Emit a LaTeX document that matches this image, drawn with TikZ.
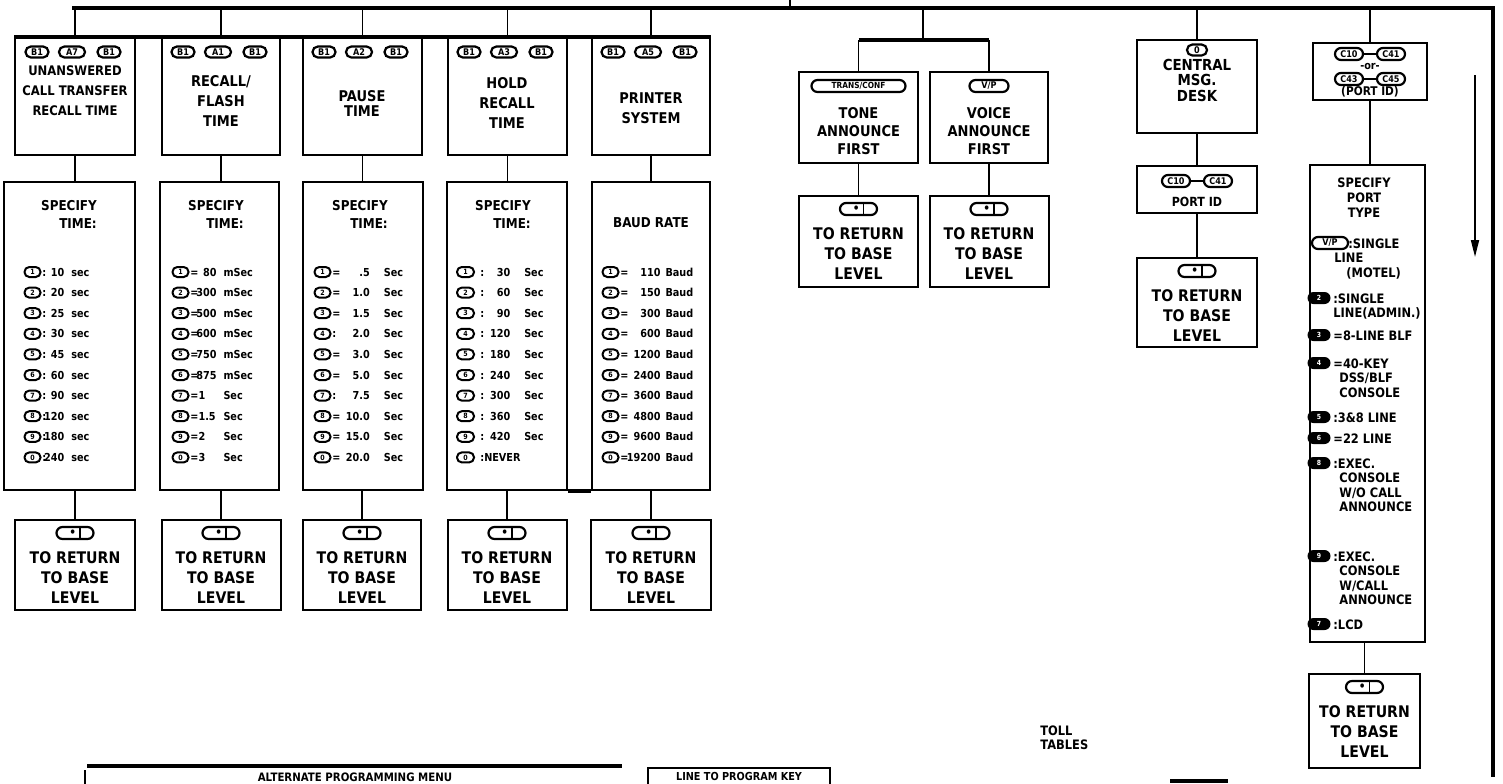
\documentclass[tikz,border=0pt]{standalone}
\usepackage{fontspec}
\setmainfont{DejaVu Sans}[FakeStretch=0.88]
\usetikzlibrary{calc}
\usetikzlibrary{arrows.meta}

\tikzset{
  box/.style={draw, line width=1pt, inner sep=0pt},
  title/.style={inner sep=0pt, align=center, font=\fontsize{7.4}{10}\selectfont\bfseries},
  head/.style={inner sep=0pt, align=center, font=\fontsize{6.8}{9}\selectfont\bfseries},
  key/.style={draw, line width=1.1pt, rounded corners=2.7pt, inner sep=0pt,
    minimum height=5.5pt, font=\fontsize{4.6}{4.6}\selectfont\bfseries},
  digit/.style={draw, line width=1pt, rounded corners=2.4pt, inner sep=0pt,
    minimum width=8pt, minimum height=5pt, font=\fontsize{3.6}{3.6}\selectfont\bfseries},
  blackkey/.style={fill, rounded corners=3pt, inner sep=0pt, minimum width=11.5pt,
    minimum height=6pt, text=white, font=\fontsize{3.5}{3.5}\selectfont\bfseries},
  item/.style={anchor=west, inner sep=0pt, font=\fontsize{5.5}{6}\selectfont\bfseries},
  porttext/.style={anchor=north west, inner sep=0pt, align=left,
    font=\fontsize{6.5}{7.3}\selectfont\bfseries},
  bus/.style={line width=1.8pt},
  link/.style={line width=0.7pt}
}

\newcommand{\retdot}{{\fontsize{6}{6}\selectfont\textbullet}\hspace{1.5pt}%
  \vrule width 0.8pt height 4.5pt depth 1.5pt\hspace{6pt}}
\newcommand{\retbox}[5]{%
  \node[box, minimum width=#4*\u, minimum height=#5*\u, anchor=north] (#1) at (#2,#3) {};
  \node[key, minimum width=18.5pt, minimum height=6pt, rounded corners=3pt] (#1k) at ($(#1.north)+(0,14)$) {\retdot};
  \node[title, font=\fontsize{8}{10}\selectfont\bfseries, anchor=north] (#1t) at ($(#1.north)+(0,32)$) {TO RETURN\\TO BASE\\LEVEL};
}

\begin{document}
\begin{tikzpicture}[x=0.5pt, y=-0.5pt]
\def\u{0.5pt}
\useasboundingbox (0,0) rectangle (1503,783);

\coordinate (busl) at (72,8);
\coordinate (busr) at (1493,8);
\coordinate (buse) at (1493,777);
\coordinate (tick) at (790,0);
\coordinate (mid) at (923,40);

% timer and printer branch
\node[box, minimum width=120*\u, minimum height=117*\u] (t1) at (75,96.5) {};
\node[box, minimum width=118*\u, minimum height=117*\u] (t2) at (221,96.5) {};
\node[box, minimum width=119*\u, minimum height=117*\u] (t3) at (362.5,96.5) {};
\node[box, minimum width=119*\u, minimum height=117*\u] (t4) at (507.5,96.5) {};
\node[box, minimum width=118*\u, minimum height=117*\u] (t5) at (651,96.5) {};

\foreach \n/\x/\a in {1/75/A7, 2/221/A1, 3/362/A2, 4/507/A3, 5/651/A5} {
  \node[key, minimum width=11.5pt] (t\n-a) at ({\x-38},52) {B1};
  \node[key, minimum width=13pt] (t\n-b) at ({\x-3},52) {\a};
  \node[key, minimum width=11.5pt] (t\n-c) at ({\x+34},52) {B1};
}

\node[title, anchor=north, font=\fontsize{6.6}{10}\selectfont\bfseries] (t1l) at (75,65) {UNANSWERED\\CALL TRANSFER\\RECALL TIME};
\node[title, anchor=north] (t2l) at (221,75) {RECALL/\\FLASH\\TIME};
\node[title, anchor=north, font=\fontsize{7.4}{7.8}\selectfont\bfseries] (t3l) at (362,90) {PAUSE\\TIME};
\node[title, anchor=north] (t4l) at (507,77) {HOLD\\RECALL\\TIME};
\node[title, anchor=north] (t5l) at (651,92) {PRINTER\\SYSTEM};

\node[box, minimum width=131*\u, minimum height=308*\u] (s1) at (69.5,336) {};
\node[box, minimum width=119*\u, minimum height=308*\u] (s2) at (219.5,336) {};
\node[box, minimum width=120*\u, minimum height=308*\u] (s3) at (363,336) {};
\node[box, minimum width=120*\u, minimum height=308*\u] (s4) at (507,336) {};
\node[box, minimum width=118*\u, minimum height=308*\u] (s5) at (651,336) {};

\node[head, anchor=north] (s1h) at (69,200) {SPECIFY\\\hspace*{9pt}TIME:};
\node[head, anchor=north] (s2h) at (216,200) {SPECIFY\\\hspace*{9pt}TIME:};
\node[head, anchor=north] (s3h) at (360,200) {SPECIFY\\\hspace*{9pt}TIME:};
\node[head, anchor=north] (s4h) at (503,200) {SPECIFY\\\hspace*{9pt}TIME:};
\node[head, anchor=north] (s5h) at (651,217) {BAUD RATE};

\foreach \d/\n [count=\k from 0] in {1/10, 2/20, 3/25, 4/30, 5/45, 6/60, 7/90, 8/120, 9/180, 0/240} {
  \node[digit] (s1k\d) at (32.5,{272+20.6*\k}) {\d};
  \node[item] (s1i\d) at (42,{272+20.6*\k}) {:\makebox[9pt][r]{\n}\hspace{3.5pt}sec};
}
\foreach \d/\n/\a/\s [count=\k from 0] in {1/80/r/mSec, 2/300/r/mSec, 3/500/r/mSec, 4/600/r/mSec,
    5/750/r/mSec, 6/875/r/mSec, 7/1/l/Sec, 8/1.5/l/Sec, 9/2/l/Sec, 0/3/l/Sec} {
  \node[digit] (s2k\d) at (180.5,{272+20.6*\k}) {\d};
  \node[item] (s2i\d) at (190,{272+20.6*\k}) {=\makebox[9pt][\a]{\n}\hspace{3.5pt}\s};
}
\foreach \d/\p/\n [count=\k from 0] in {1/=/.5, 2/=/1.0, 3/=/1.5, 4/:/2.0, 5/=/3.0,
    6/=/5.0, 7/:/7.5, 8/=/10.0, 9/=/15.0, 0/=/20.0} {
  \node[digit] (s3k\d) at (322.5,{272+20.6*\k}) {\d};
  \node[item] (s3i\d) at (332,{272+20.6*\k}) {\makebox[4.2pt][l]{\p}\makebox[14.5pt][r]{\n}\hspace{7pt}Sec};
}
\foreach \d/\n [count=\k from 0] in {1/30, 2/60, 3/90, 4/120, 5/180, 6/240, 7/300, 8/360, 9/420} {
  \node[digit, minimum width=8.5pt] (s4k\d) at (465.5,{272+20.6*\k}) {\d};
  \node[item] (s4i\d) at (480,{272+20.6*\k}) {:\hspace{2pt}\makebox[11pt][r]{\n}\hspace{7pt}Sec};
}
\node[digit, minimum width=8.5pt] (s4k0) at (465.5,457.4) {0};
\node[item] (s4i0) at (480,457.4) {:NEVER};
\foreach \d/\n [count=\k from 0] in {1/110, 2/150, 3/300, 4/600, 5/1200, 6/2400, 7/3600, 8/4800, 9/9600, 0/19200} {
  \node[digit] (s5k\d) at (610.5,{272+20.6*\k}) {\d};
  \node[item] (s5i\d) at (620,{272+20.6*\k}) {=\makebox[16pt][r]{\n}\hspace{2.5pt}Baud};
}

\retbox{r1}{75}{519}{120}{90}
\retbox{r2}{221}{519}{119}{90}
\retbox{r3}{362}{519}{118}{90}
\retbox{r4}{507}{519}{119}{90}
\retbox{r5}{651}{519}{120}{90}

% announce branch
\node[box, minimum width=119*\u, minimum height=91*\u] (tone) at (858.5,117.5) {};
\node[box, minimum width=118*\u, minimum height=91*\u] (voice) at (989,117.5) {};
\node[key, minimum width=47pt, minimum height=6pt, rounded corners=3pt, font=\fontsize{4.2}{4.5}\selectfont\bfseries] (tonek) at (858.5,86) {TRANS/CONF};
\node[key, minimum width=19.5pt, minimum height=6pt, rounded corners=3pt] (voicek) at (989,86) {V/P};
\node[title, anchor=north, font=\fontsize{7.4}{9}\selectfont\bfseries] (tonel) at (858.5,107) {TONE\\ANNOUNCE\\FIRST};
\node[title, anchor=north, font=\fontsize{7.4}{9}\selectfont\bfseries] (voicel) at (989,107) {VOICE\\ANNOUNCE\\FIRST};
\retbox{tr}{858.5}{195}{119}{91}
\retbox{vr}{989}{195}{119}{91}

% message desk branch
\node[box, minimum width=120*\u, minimum height=93*\u] (cmsg) at (1197,86.5) {};
\node[key, minimum width=10pt, minimum height=5.5pt, rounded corners=2.7pt] (cmsgk) at (1197,50) {0};
\node[title, anchor=north, font=\fontsize{7.6}{7.6}\selectfont\bfseries] (cmsgl) at (1197,59) {CENTRAL\\MSG.\\DESK};
\node[box, minimum width=120*\u, minimum height=47*\u] (pid) at (1197,189.5) {};
\node[key, minimum width=14pt, minimum height=6pt, rounded corners=3pt] (pidk1) at (1176,181) {C10};
\node[key, minimum width=14pt, minimum height=6pt, rounded corners=3pt] (pidk2) at (1218,181) {C41};
\node[head, anchor=north, font=\fontsize{6.3}{7}\selectfont\bfseries] (pidl) at (1197,197) {PORT ID};
\retbox{cr}{1197}{257}{120}{89}

% port type branch
\node[box, minimum width=114*\u, minimum height=57*\u] (ports) at (1370,71.5) {};
\node[key, minimum width=14pt, minimum height=6pt, rounded corners=3pt] (portk1) at (1349,54) {C10};
\node[key, minimum width=14pt, minimum height=6pt, rounded corners=3pt] (portk2) at (1391,54) {C41};
\node[inner sep=0pt, font=\fontsize{5.5}{6}\selectfont\bfseries] (portor) at (1370,66.5) {-or-};
\node[key, minimum width=14pt, minimum height=6pt, rounded corners=3pt] (portk3) at (1349,79) {C43};
\node[key, minimum width=14pt, minimum height=6pt, rounded corners=3pt] (portk4) at (1391,79) {C45};
\node[inner sep=0pt, font=\fontsize{6}{7}\selectfont\bfseries] (portl) at (1370,92) {(PORT ID)};

\node[box, minimum width=115*\u, minimum height=477*\u] (ptype) at (1367.5,403.5) {};
\node[head, anchor=north, font=\fontsize{6.5}{7.5}\selectfont\bfseries] (ptypeh) at (1364,177) {SPECIFY\\PORT\\TYPE};
\node[key, minimum width=18pt, minimum height=6pt, rounded corners=3pt] (p1k) at (1330,243) {V/P};
\node[porttext] (p1t) at (1334,238) {\hspace*{7pt}:SINGLE\\LINE\\\hspace*{6pt}(MOTEL)};
\node[blackkey] (p2k) at (1319,298) {2};
\node[porttext] (p2t) at (1333,293) {:SINGLE\\LINE(ADMIN.)};
\node[blackkey] (p3k) at (1319,335) {3};
\node[porttext] (p3t) at (1333,330) {=8-LINE BLF};
\node[blackkey] (p4k) at (1319,363) {4};
\node[porttext] (p4t) at (1333,358) {=40-KEY\\\hspace*{3pt}DSS/BLF\\\hspace*{3pt}CONSOLE};
\node[blackkey] (p5k) at (1319,417) {5};
\node[porttext] (p5t) at (1333,412) {:3\&8 LINE};
\node[blackkey] (p6k) at (1319,438) {6};
\node[porttext] (p6t) at (1333,433) {=22 LINE};
\node[blackkey] (p7k) at (1319,463) {8};
\node[porttext] (p7t) at (1333,458) {:EXEC.\\\hspace*{3pt}CONSOLE\\\hspace*{3pt}W/O CALL\\\hspace*{3pt}ANNOUNCE};
\node[blackkey] (p8k) at (1319,556) {9};
\node[porttext] (p8t) at (1333,551) {:EXEC.\\\hspace*{3pt}CONSOLE\\\hspace*{3pt}W/CALL\\\hspace*{3pt}ANNOUNCE};
\node[blackkey] (p9k) at (1319,624) {7};
\node[porttext] (p9t) at (1333,619) {:LCD};
\retbox{pr}{1364.5}{673}{111}{94}

\coordinate (arrtop) at (1475,75);
\coordinate (arrbot) at (1475,257);
\draw[line width=0.8pt, arrows={-Triangle[length=8.5pt, width=4pt]}] (arrtop) -- (arrbot);

% connectors
\draw[bus] (busl) -- (busr) -- (buse);
\draw[link] (tick) -- (tick |- busl);
\foreach \n in {1,...,5} {
  \draw[link] (t\n.north |- busl) -- (t\n.north);
  \draw[link] (t\n.south) -- (t\n.south |- s\n.north);
  \draw[link] (r\n.north |- s\n.south) -- (r\n.north);
}
\draw[bus] (t1.north west) -- (t5.north east);
\draw[bus] (s4.south east) -- (s5.south west);

\draw[link] (mid |- busl) -- (mid);
\draw[bus] (tone.north |- mid) -- (voice.north |- mid);
\draw[link] (tone.north |- mid) -- (tone.north);
\draw[link] (voice.north |- mid) -- (voice.north);
\draw[link] (tone.south) -- (tr.north);
\draw[link] (voice.south) -- (vr.north);

\draw[link] (cmsg.north |- busl) -- (cmsg.north);
\draw[link] (cmsg.south) -- (pid.north);
\draw[link] (pid.south) -- (cr.north);
\draw[line width=1pt] (pidk1) -- (pidk2);

\draw[link] (ports.north |- busl) -- (ports.north);
\draw[link] (ports.south) -- (ports.south |- ptype.north);
\draw[link] (pr.north |- ptype.south) -- (pr.north);
\draw[line width=1pt] (portk1) -- (portk2);
\draw[line width=1pt] (portk3) -- (portk4);

% bottom
\node[anchor=north west, inner sep=0pt, align=left, font=\fontsize{6.5}{7.3}\selectfont\bfseries] (toll) at (1040,725) {TOLL\\TABLES};
\draw[bus] (87,766) -- (622,766);
\draw[link] (85,770) -- (85,790);
\node[anchor=north, inner sep=0pt, font=\fontsize{5.8}{6}\selectfont\bfseries] (alt) at (355,772) {ALTERNATE PROGRAMMING MENU};
\draw[line width=0.8pt] (648,795) -- (648,768) -- (830,768) -- (830,795);
\node[inner sep=0pt, font=\fontsize{5.5}{6}\selectfont\bfseries] (ltp) at (739,776) {LINE TO PROGRAM KEY};
\draw[bus] (1170,781) -- (1228,781);
\end{tikzpicture}
\end{document}
